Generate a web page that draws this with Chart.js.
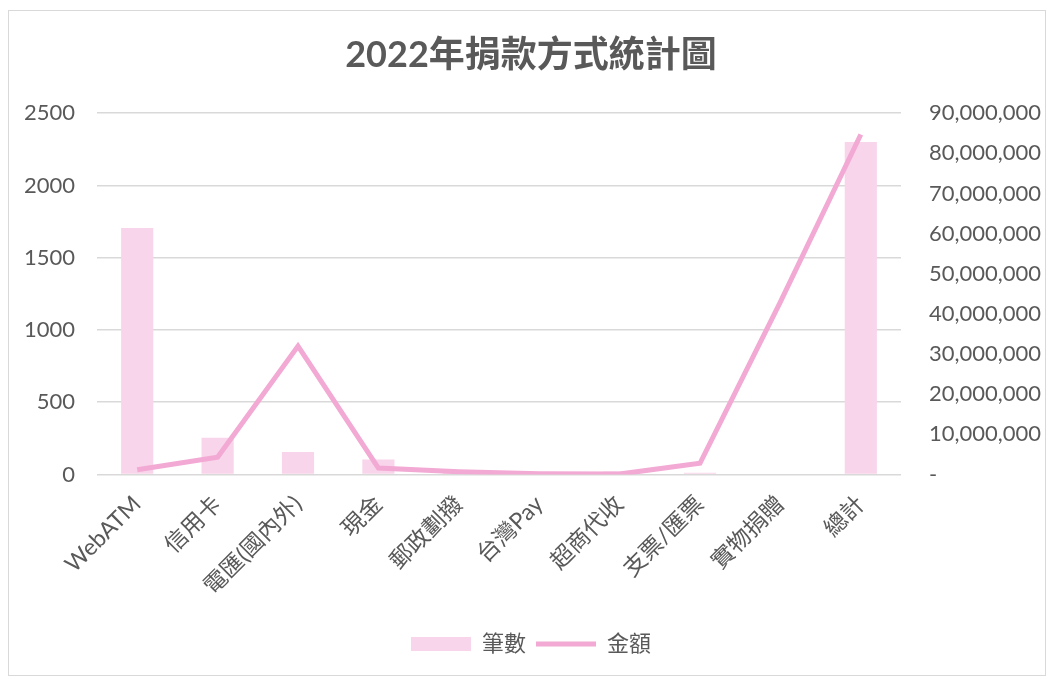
<!DOCTYPE html>
<html>
<head>
<meta charset="utf-8">
<script src="https://cdn.jsdelivr.net/npm/chart.js@4"></script>
<style>
  body { margin: 0; background: #fff; }
  .box {
    position: absolute; left: 8px; top: 10px;
    width: 1036px; height: 664px;
    border: 1px solid #d9d9d9;
  }
</style>
</head>
<body>
<div class="box"><canvas id="chart"></canvas></div>
<script>
// categories and values
const categories = ["WebATM", "信用卡", "電匯(國內外)", "現金", "郵政劃撥", "台灣Pay", "超商代收", "支票/匯票", "實物捐贈", "總計"];
const counts = [1705, 255, 155, 103, 30, 10, 20, 12, 0, 2300];
const amounts = [1200000, 4300000, 32000000, 1600000, 700000, 200000, 100000, 2800000, 43000000, 84700000];
const leftTicks = [0, 500, 1000, 1500, 2000, 2500];
const rightTicks = [0, 10000000, 20000000, 30000000, 40000000, 50000000, 60000000, 70000000, 80000000, 90000000];

const FONT = "Lato, 'Noto Sans CJK TC', sans-serif";
const GREY = "#595959";

const ctx = document.getElementById("chart").getContext("2d");
new Chart(ctx, {
  data: {
    labels: categories,
    datasets: [
      {
        type: "bar",
        label: "筆數",
        data: counts,
        backgroundColor: "#f8d5ea",
        yAxisID: "y",
        barPercentage: 0.4,
        categoryPercentage: 1,
        pointStyle: "rect",
        order: 2,
      },
      {
        type: "line",
        label: "金額",
        data: amounts,
        borderColor: "#f2a9d4",
        backgroundColor: "#f2a9d4",
        borderWidth: 5,
        pointRadius: 0,
        pointStyle: "line",
        tension: 0,
        yAxisID: "y1",
        order: 1,
      },
    ],
  },
  options: {
    responsive: true,
    maintainAspectRatio: false,
    animation: false,
    layout: { padding: { left: 10, right: 2, bottom: 10 } },
    scales: {
      x: {
        grid: { display: false },
        border: { display: false },
        afterFit: (axis) => {
          axis.paddingLeft = 0;
          axis.paddingRight = 0;
          axis.height += 15; // extra gap above the legend
        },
        ticks: {
          color: GREY,
          padding: 8,
          font: { family: FONT, size: 23 },
          maxRotation: 45,
          minRotation: 45,
          autoSkip: false,
        },
      },
      y: {
        position: "left",
        min: 0,
        max: 2500,
        afterBuildTicks: (axis) => { axis.ticks = leftTicks.map((v) => ({ value: v })); },
        afterFit: (axis) => { axis.width = 78; },
        grid: { color: "#d9d9d9", lineWidth: 1.5, drawTicks: false },
        border: { display: false },
        ticks: {
          color: GREY,
          padding: 22,
          font: { family: FONT, size: 22 },
          callback: (v) => String(v),
        },
      },
      y1: {
        position: "right",
        min: 0,
        max: 90000000,
        afterBuildTicks: (axis) => { axis.ticks = rightTicks.map((v) => ({ value: v })); },
        afterFit: (axis) => { axis.width = 142; },
        grid: { display: false, drawTicks: false },
        border: { display: false },
        ticks: {
          color: GREY,
          padding: 28,
          font: { family: FONT, size: 22 },
          callback: (v) => (v === 0 ? "-" : v.toLocaleString("en-US")),
        },
      },
    },
    plugins: {
      title: {
        display: true,
        text: "2022年捐款方式統計圖",
        color: GREY,
        font: { family: FONT, size: 36, weight: "bold" },
        padding: { top: 23, bottom: 36 },
      },
      legend: {
        position: "bottom",
        labels: {
          color: GREY,
          font: { family: FONT, size: 22 },
          usePointStyle: true,
          pointStyleWidth: 60,
          boxHeight: 14,
          padding: 10,
          sort: (a, b) => a.datasetIndex - b.datasetIndex,
        },
      },
      tooltip: { enabled: false },
    },
  },
});
</script>
</body>
</html>
